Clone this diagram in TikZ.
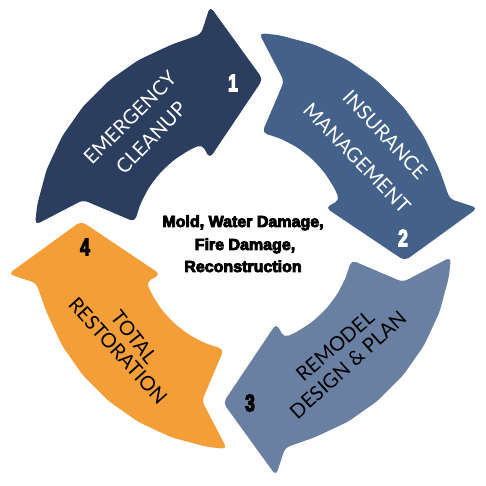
\documentclass[tikz,border=0pt]{standalone}
\usepackage{fontspec}
\newfontfamily\labelfont{Lato}
\newfontfamily\numfont{Liberation Sans Bold}[FakeStretch=0.72,FakeBold=5]
\newfontfamily\midfont{Liberation Sans Bold}[FakeBold=5]
\definecolor{arrowA}{HTML}{2C3E5F}
\definecolor{arrowB}{HTML}{44618A}
\definecolor{arrowC}{HTML}{6A80A3}
\definecolor{arrowD}{HTML}{F39E36}
\newcommand{\cyclearrow}[2]{%
  \begin{scope}[shift={(243,245)},rotate=#1]
    \fill[#2, rounded corners=5pt] (175.6:208.6) -- (165.6:165) -- (170:110)
      \foreach \a in {160,150,140,130,120} { -- (\a:{110-(170-\a)/57*5}) }
      -- (113:105) -- (112:89) -- (83:163) -- (98:237) -- (101.5:211)
      \foreach \a in {110,120,...,170} { -- (\a:209) } -- cycle;
  \end{scope}}
\tikzset{
  lbl/.style={font=\labelfont\fontsize{20}{20}\selectfont, inner sep=0pt},
  num/.style={font=\numfont\fontsize{24}{24}\selectfont, inner sep=0pt},
  mid/.style={font=\midfont\fontsize{16}{16}\selectfont, inner sep=0pt, anchor=base}
}
\begin{document}
\begin{tikzpicture}[x=1pt,y=1pt]
\useasboundingbox (0,0) rectangle (485,486);
\fill[white] (0,0) rectangle (485,486);
\cyclearrow{0}{arrowA}
\cyclearrow{-90}{arrowB}
\cyclearrow{-180}{arrowC}
\cyclearrow{-270}{arrowD}
% labels
\node[lbl, text=white, rotate=45] (t1a) at (130,368) {EMERGENCY};
\node[lbl, text=white, rotate=46] (t1b) at (151,348) {CLEANUP};
\node[lbl, text=white, rotate=-47] (t2a) at (385,351) {INSURANCE};
\node[lbl, text=white, rotate=-46] (t2b) at (357,328) {MANAGEMENT};
\node[lbl, text=black, rotate=41] (t3a) at (335,140) {REMODEL};
\node[lbl, text=black, rotate=42] (t3b) at (348,121) {DESIGN \& PLAN};
\node[lbl, text=black, rotate=-52] (t4a) at (134,149) {TOTAL};
\node[lbl, text=black, rotate=-48] (t4b) at (118,135) {RESTORATION};
% numbers
\node[num, text=white] (n1) at (233,403) {1};
\node[num, text=white] (n2) at (403,248) {2};
\node[num, text=black] (n3) at (250,83) {3};
\node[num, text=black] (n4) at (85,239) {4};
% centre text
\node[mid] (m1) at (243,259) {Mold, Water Damage,};
\node[mid] (m2) at (245,236) {Fire Damage,};
\node[mid] (m3) at (243,214) {Reconstruction};
\end{tikzpicture}
\end{document}
